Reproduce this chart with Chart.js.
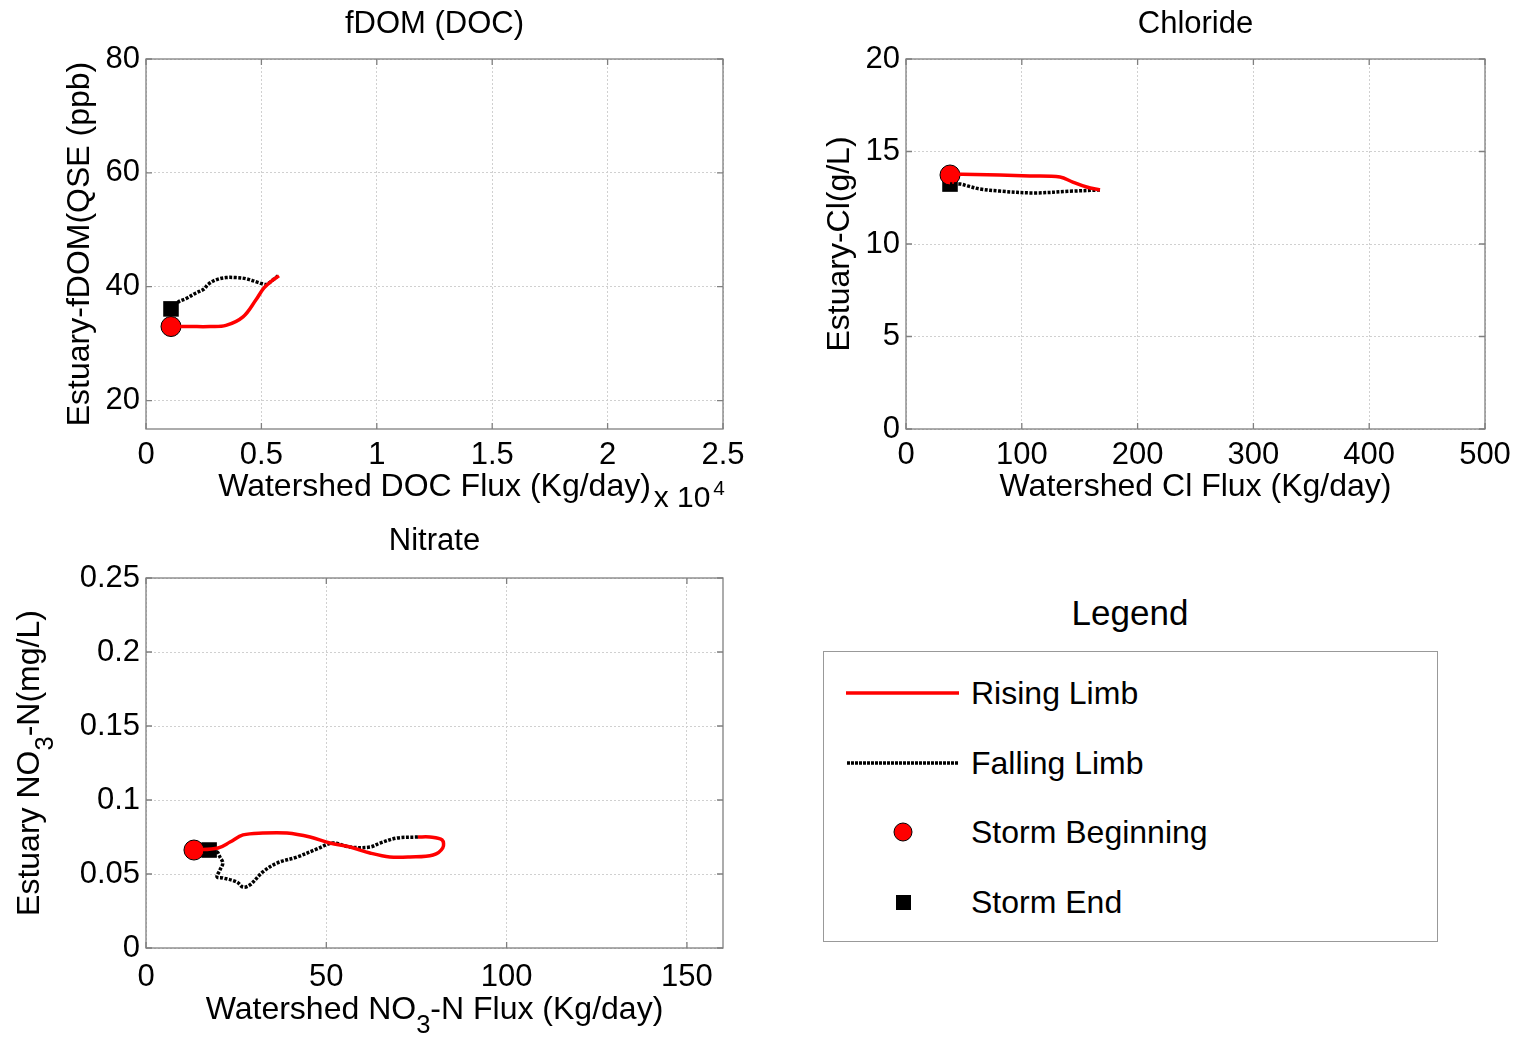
<!DOCTYPE html>
<html>
<head>
<meta charset="utf-8">
<script src="https://cdn.jsdelivr.net/npm/chart.js@4/dist/chart.umd.min.js"></script>
<style>
  body { margin: 0; background: #fff; width: 1520px; height: 1037px; position: relative; overflow: hidden;
         font-family: "Liberation Sans", Arial, sans-serif; }
  canvas { position: absolute; }
  #legendTitle { position: absolute; left: 1030px; width: 200px; top: 593px; text-align: center; font-size: 35px; }
  #legendBox { position: absolute; left: 823px; top: 651px; width: 613px; height: 289px; border: 1px solid #999; }
  .row { position: absolute; left: 0; height: 40px; width: 100%; }
  .row svg { position: absolute; left: 0; top: 0; }
  .row span { position: absolute; left: 147px; top: 1px; font-size: 32px; line-height: 38px; }
</style>
</head>
<body>
<canvas id="docChart" width="760" height="525" style="left:0;top:0"></canvas>
<canvas id="clChart" width="760" height="525" style="left:760px;top:0"></canvas>
<canvas id="no3Chart" width="760" height="517" style="left:0;top:520px"></canvas>

<div id="legendTitle">Legend</div>
<div id="legendBox">
  <div class="row" style="top:21px">
    <svg width="140" height="40"><line x1="22" y1="20" x2="135" y2="20" stroke="#ff0000" stroke-width="3.5"/></svg>
    <span>Rising Limb</span>
  </div>
  <div class="row" style="top:91px">
    <svg width="140" height="40"><line x1="23" y1="20" x2="135" y2="20" stroke="#000" stroke-width="3.5" stroke-dasharray="3 1"/></svg>
    <span>Falling Limb</span>
  </div>
  <div class="row" style="top:160px">
    <svg width="140" height="40"><circle cx="79" cy="20" r="9" fill="#ff0000" stroke="#000" stroke-width="1"/></svg>
    <span>Storm Beginning</span>
  </div>
  <div class="row" style="top:230px">
    <svg width="140" height="40"><rect x="72" y="13" width="15" height="15" fill="#000"/></svg>
    <span>Storm End</span>
  </div>
</div>

<script>
// ---- fDOM (DOC) ----
const docRising = [[1083, 33.0], [1906, 33.0], [2773, 33.0], [3466, 33.2], [4203, 34.7],
  [4766, 37.7], [5113, 39.8], [5503, 41.2], [5763, 41.9]];
const docFalling = [[5720, 41.9], [5503, 41.2], [5199, 40.4], [4896, 40.7], [4333, 41.4],
  [3899, 41.6], [3466, 41.6], [3033, 41.2], [2686, 40.4], [2513, 39.6], [2166, 38.9],
  [1733, 37.9], [1430, 37.4], [1083, 36.1]];
const docStart = [1083, 33.0];
const docEnd = [1083, 36.1];

// ---- Chloride ----
const clRising = [[38, 13.78], [81, 13.73], [107, 13.68], [133, 13.62], [144, 13.35],
  [156, 13.08], [167.5, 12.92]];
const clFalling = [[167.5, 12.92], [144, 12.86], [110, 12.76], [81, 12.86], [64, 12.97],
  [53, 13.14], [47, 13.24], [38, 13.24]];
const clStart = [38, 13.73];
const clEnd = [38, 13.24];

// ---- Nitrate ----
const no3Rising = [[13.3, 0.0662], [20.0, 0.0676], [23.3, 0.0716], [26.9, 0.0764], [32.4, 0.0777],
  [39.1, 0.0777], [45.5, 0.0750], [51.0, 0.0709], [56.6, 0.0682], [62.1, 0.0642], [67.6, 0.0615],
  [73.2, 0.0615], [79.6, 0.0628], [82.3, 0.0676], [82.1, 0.0730], [78.7, 0.0750], [75.4, 0.0750]];
const no3Falling = [[75.4, 0.0750], [69.6, 0.0743], [64.9, 0.0709], [62.1, 0.0682], [56.6, 0.0682],
  [51.8, 0.0709], [47.4, 0.0669], [41.9, 0.0615], [36.3, 0.0574], [32.4, 0.0514], [28.8, 0.0426],
  [26.9, 0.0412], [25.2, 0.0446], [21.3, 0.0473], [19.7, 0.0480], [20.5, 0.0527], [21.3, 0.0574],
  [20.5, 0.0615], [19.7, 0.0649], [17.5, 0.0662]];
const no3Start = [13.3, 0.0662];
const no3End = [17.5, 0.0662];

const FONT = '"Liberation Sans", Arial, sans-serif';
const toXY = pts => pts.map(p => ({ x: p[0], y: p[1] }));

// draws a string made of parts, some of them sub/superscript, centred on (cx, cy)
function drawParts(ctx, parts, cx, cy, size) {
    ctx.save();
    ctx.textBaseline = 'middle';
    ctx.textAlign = 'left';
    ctx.fillStyle = '#000';
    let total = 0;
    parts.forEach(p => {
        ctx.font = (p.sub || p.sup ? size * 0.8 : size) + 'px ' + FONT;
        p.w = ctx.measureText(p.t).width;
        total += p.w;
    });
    let x = cx - total / 2;
    parts.forEach(p => {
        ctx.font = (p.sub || p.sup ? size * 0.8 : size) + 'px ' + FONT;
        let dy = p.sub ? size * 0.5 : (p.sup ? -size * 0.4 : 0);
        ctx.fillText(p.t, x, cy + dy);
        x += p.w;
    });
    ctx.restore();
}

const decorPlugin = {
    id: 'decor',
    afterDraw(chart) {
        const o = chart.options.plugins.decor;
        const ctx = chart.ctx;
        const a = chart.chartArea;
        const xs = chart.scales.x, ys = chart.scales.y;
        ctx.save();
        ctx.strokeStyle = '#808080';
        ctx.lineWidth = 1.3;
        // inner tick marks
        ctx.beginPath();
        xs.ticks.forEach(t => {
            const px = xs.getPixelForValue(t.value);
            ctx.moveTo(px, a.bottom); ctx.lineTo(px, a.bottom - 6);
            ctx.moveTo(px, a.top); ctx.lineTo(px, a.top + 6);
        });
        ys.ticks.forEach(t => {
            const py = ys.getPixelForValue(t.value);
            ctx.moveTo(a.left, py); ctx.lineTo(a.left + 6, py);
            ctx.moveTo(a.right, py); ctx.lineTo(a.right - 6, py);
        });
        ctx.stroke();
        ctx.strokeRect(a.left, a.top, a.right - a.left, a.bottom - a.top);
        ctx.restore();

        const midX = (a.left + a.right) / 2;
        const midY = (a.top + a.bottom) / 2;
        drawParts(ctx, [{ t: o.title }], midX, a.top - o.titleGap, 31);
        drawParts(ctx, o.xLabel, midX, a.bottom + o.xLabelGap, 32);
        ctx.save();
        ctx.translate(o.yLabelX, midY);
        ctx.rotate(-Math.PI / 2);
        drawParts(ctx, o.yLabel, 0, 0, 32);
        ctx.restore();
        if (o.exponent) {
            drawParts(ctx, [{ t: 'x 10' }], a.right - 41, a.bottom + 70, 30);
            drawParts(ctx, [{ t: '4', sup: true }], a.right - 4, a.bottom + 71, 26);
        }
    }
};

function makeChart(id, cfg) {
    const lineBase = { showLine: true, pointRadius: 0, tension: 0.35, fill: false, borderWidth: 3.5 };
    new Chart(document.getElementById(id), {
        type: 'scatter',
        data: {
            datasets: [
                Object.assign({ label: 'Rising Limb', data: toXY(cfg.rising), borderColor: '#ff0000' }, lineBase),
                Object.assign({ label: 'Falling Limb', data: toXY(cfg.falling), borderColor: '#000', borderDash: [3, 1.5] }, lineBase),
                { label: 'Storm Beginning', data: toXY([cfg.start]), pointStyle: 'circle', pointRadius: 10,
                  backgroundColor: '#ff0000', borderColor: '#000', borderWidth: 1 },
                { label: 'Storm End', data: toXY([cfg.end]), pointStyle: 'rect', pointRadius: 11,
                  backgroundColor: '#000', borderColor: '#000', borderWidth: 0 }
            ]
        },
        options: {
            responsive: false,
            animation: false,
            layout: { padding: { top: cfg.top, right: cfg.right, left: 0, bottom: 0 } },
            plugins: {
                legend: { display: false },
                tooltip: { enabled: false },
                decor: cfg.decor
            },
            scales: {
                x: {
                    type: 'linear', min: cfg.xMin, max: cfg.xMax,
                    afterFit: s => { s.height = cfg.xAxisH; },
                    grid: { color: '#d0d0d0', drawTicks: false },
                    border: { display: false, dash: [2, 2] },
                    ticks: { stepSize: cfg.xStep, includeBounds: false, padding: cfg.xPad, color: '#000',
                             font: { family: FONT, size: 31 }, maxRotation: 0, callback: cfg.xFmt }
                },
                y: {
                    type: 'linear', min: cfg.yMin, max: cfg.yMax,
                    afterFit: s => { s.width = 146; },
                    grid: { color: '#d0d0d0', drawTicks: false },
                    border: { display: false, dash: [2, 2] },
                    ticks: { stepSize: cfg.yStep, includeBounds: false, padding: 6, color: '#000',
                             font: { family: FONT, size: 31 }, callback: cfg.yFmt }
                }
            }
        },
        plugins: [decorPlugin]
    });
}

makeChart('docChart', {
    rising: docRising, falling: docFalling, start: docStart, end: docEnd,
    top: 59, right: 37, xAxisH: 96, xPad: 8,
    xMin: 0, xMax: 25000, xStep: 5000, xFmt: v => String(v / 10000),
    yMin: 15, yMax: 80, yStep: 20, yFmt: v => String(v),
    decor: {
        title: 'fDOM (DOC)', titleGap: 35, xLabelGap: 58,
        xLabel: [{ t: 'Watershed DOC Flux (Kg/day)' }],
        yLabel: [{ t: 'Estuary-fDOM(QSE (ppb)' }],
        yLabelX: 80, exponent: true
    }
});

makeChart('clChart', {
    rising: clRising, falling: clFalling, start: clStart, end: clEnd,
    top: 59, right: 35, xAxisH: 96, xPad: 8,
    xMin: 0, xMax: 500, xStep: 100, xFmt: v => String(v),
    yMin: 0, yMax: 20, yStep: 5, yFmt: v => String(v),
    decor: {
        title: 'Chloride', titleGap: 35, xLabelGap: 58,
        xLabel: [{ t: 'Watershed Cl Flux (Kg/day)' }],
        yLabel: [{ t: 'Estuary-Cl(g/L)' }],
        yLabelX: 80
    }
});

makeChart('no3Chart', {
    rising: no3Rising, falling: no3Falling, start: no3Start, end: no3End,
    top: 58, right: 37, xAxisH: 89, xPad: 11,
    xMin: 0, xMax: 160, xStep: 50, xFmt: v => String(v),
    yMin: 0, yMax: 0.25, yStep: 0.05, yFmt: v => String(Math.round(v * 100) / 100),
    decor: {
        title: 'Nitrate', titleGap: 37, xLabelGap: 62,
        xLabel: [{ t: 'Watershed NO' }, { t: '3', sub: true }, { t: '-N Flux (Kg/day)' }],
        yLabel: [{ t: 'Estuary NO' }, { t: '3', sub: true }, { t: '-N(mg/L)' }],
        yLabelX: 30
    }
});
</script>
</body>
</html>
